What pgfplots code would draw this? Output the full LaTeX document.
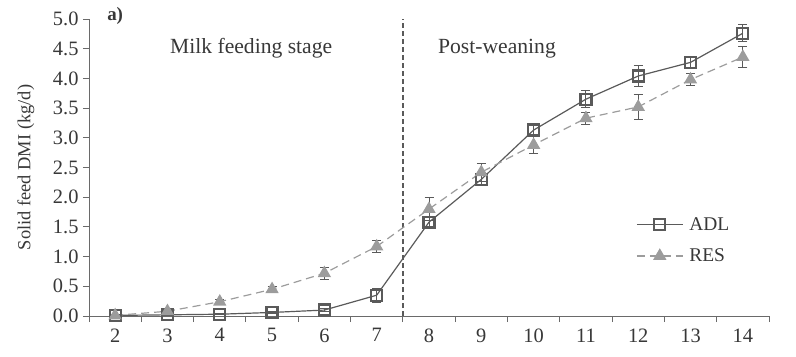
\documentclass[border=0pt]{standalone}
\usepackage{fontspec}
\setmainfont{Liberation Serif}
\usepackage{pgfplots}
\pgfplotsset{compat=1.18}
\definecolor{adl}{HTML}{5A5A5A}
\definecolor{res}{HTML}{9C9C9C}
\definecolor{txt}{HTML}{383838}
\definecolor{axc}{HTML}{6A6A6A}
\begin{document}
\begin{tikzpicture}
\begin{axis}[name=ax, at={(0,0)}, anchor=south west,
  scale only axis, width=680bp, height=297bp,
  xmin=1.5, xmax=14.5, ymin=0, ymax=5,
  clip=false,
  axis lines=left,
  axis line style={-, color=axc, line width=1pt},
  xtick={2,...,14},
  minor xtick={1.5,2.5,...,14.5},
  major x tick style={draw=none},
  minor x tick style={axc, line width=1pt},
  minor tick length=6bp,
  ytick={0,0.5,...,5},
  y tick style={axc, line width=1pt},
  major tick length=6bp,
  tick align=outside,
  yticklabel style={/pgf/number format/fixed, /pgf/number format/fixed zerofill, /pgf/number format/precision=1, xshift=-1bp},
  xticklabel style={yshift=-3bp},
  /pgf/number format/assume math mode=true,
  tick label style={font=\fontsize{20.5}{22}\selectfont, text=txt},
  ylabel={Solid feed DMI (kg/d)},
  ylabel style={at={(rel axis cs:0,0.5)}, yshift=63bp, anchor=center, font=\fontsize{18.5}{20}\selectfont, text=txt},
  legend cell align=left,
  legend style={draw=none, fill=none, at={(rel axis cs:0.8,0.255)}, anchor=west,
    font=\fontsize{19.5}{20}\selectfont, text=txt, row sep=13bp},
  legend image code/.code={\draw[mark repeat=2,mark phase=2] plot coordinates {(0bp,0bp) (23bp,0bp) (46bp,0bp)};},
]
\addplot[adl, dash pattern=on 5bp off 3bp, line width=1.4pt, forget plot] coordinates {(7.5,0) (7.5,5)};
\addplot[adl, line width=1.2pt, mark=square, mark size=5.5bp,
  mark options={solid, line width=2.2pt, fill=white},
  error bars/.cd, y dir=both, y explicit,
  error bar style={line width=1pt, solid},
  error mark options={rotate=90, mark size=4.5bp, line width=1pt}]
coordinates {
(2,0.01) +- (0,0.01)
(3,0.02) +- (0,0.01)
(4,0.03) +- (0,0.01)
(5,0.06) +- (0,0.02)
(6,0.10) +- (0,0.03)
(7,0.35) +- (0,0.12)
(8,1.58) +- (0,0.08)
(9,2.30) +- (0,0.08)
(10,3.13) +- (0,0.10)
(11,3.65) +- (0,0.14)
(12,4.04) +- (0,0.18)
(13,4.27) +- (0,0.08)
(14,4.76) +- (0,0.14)
};
\addlegendentry{\hspace{4bp}ADL}
\addplot[res, dash pattern=on 8bp off 5bp, line width=1.2pt, mark=triangle*, mark size=6.5bp,
  mark options={solid, fill=res, draw=res},
  error bars/.cd, y dir=both, y explicit,
  error bar style={line width=1pt, solid, adl},
  error mark options={rotate=90, mark size=4.5bp, line width=1pt, adl}]
coordinates {
(2,0.01) +- (0,0.01)
(3,0.08) +- (0,0.02)
(4,0.24) +- (0,0.04)
(5,0.45) +- (0,0.05)
(6,0.72) +- (0,0.10)
(7,1.17) +- (0,0.10)
(8,1.80) +- (0,0.20)
(9,2.42) +- (0,0.15)
(10,2.88) +- (0,0.15)
(11,3.33) +- (0,0.10)
(12,3.52) +- (0,0.21)
(13,3.98) +- (0,0.10)
(14,4.36) +- (0,0.18)
};
\addlegendentry{\hspace{4bp}RES}
\node[font=\bfseries\fontsize{19}{20}\selectfont, text=txt] at (axis cs:2.0,5.05) {a)};
\node[font=\fontsize{21.7}{24}\selectfont, text=txt] at (axis cs:4.6,4.5) {Milk feeding stage};
\node[font=\fontsize{21.7}{24}\selectfont, text=txt] at (axis cs:9.3,4.5) {Post-weaning};
\end{axis}
\pgfresetboundingbox
\path[use as bounding box] ([shift={(-89bp,-41bp)}]ax.south west) rectangle ([shift={(27bp,19bp)}]ax.north east);
\end{tikzpicture}
\end{document}
